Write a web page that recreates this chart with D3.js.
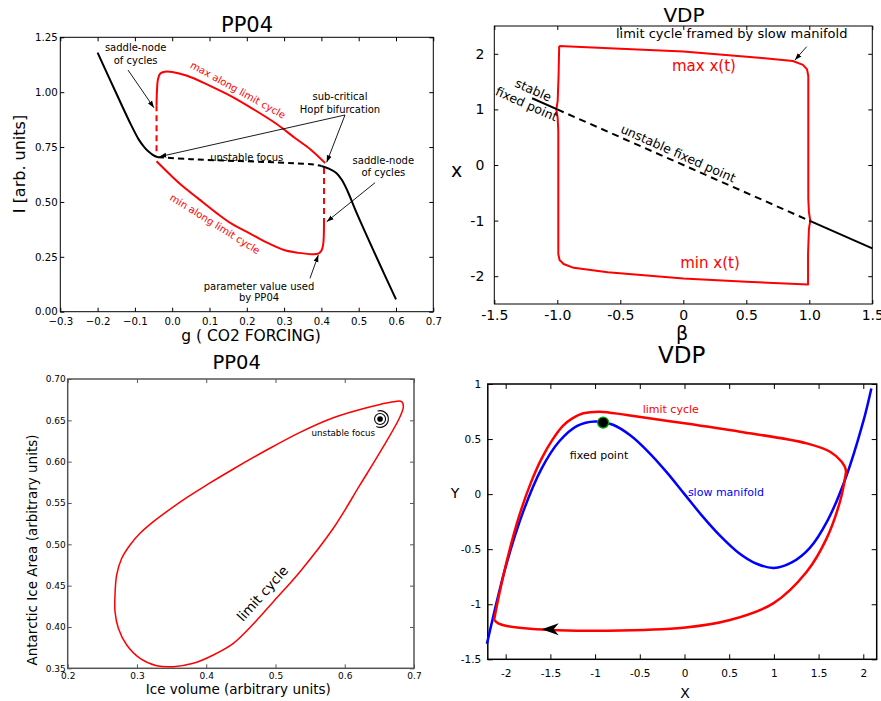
<!DOCTYPE html>
<html><head><meta charset="utf-8">
<script src="https://cdn.jsdelivr.net/npm/d3@7"></script>
<style>body{margin:0;background:#fff;} svg text{font-family:"DejaVu Sans",sans-serif;}</style>
</head><body>
<svg id="c" width="881" height="701"></svg>
<script>
// ================= DATA =================
// Panel A: PP04 bifurcation diagram (g = CO2 forcing, I = ice)
const aStableLeftG  = [-0.2, -0.15, -0.11, -0.09, -0.075, -0.062, -0.052, -0.044, -0.038];
const aStableLeftI  = [1.18, 0.995, 0.85, 0.785, 0.750, 0.727, 0.714, 0.707, 0.704];
const aUnstableG    = [-0.038, 0.05, 0.15, 0.25, 0.33, 0.38, 0.40];
const aUnstableI    = [0.704, 0.695, 0.688, 0.682, 0.676, 0.670, 0.664];
const aStableRightG = [0.40, 0.42, 0.44, 0.455, 0.47, 0.495, 0.55, 0.60];
const aStableRightI = [0.664, 0.652, 0.632, 0.60, 0.55, 0.448, 0.24, 0.056];
const aMaxG = [-0.042, -0.041, -0.038, -0.032, -0.02, 0.0, 0.04, 0.1, 0.16, 0.22, 0.28, 0.33, 0.37, 0.41];
const aMaxI = [0.94, 1.0, 1.06, 1.085, 1.093, 1.092, 1.075, 1.03, 0.98, 0.92, 0.855, 0.79, 0.74, 0.677];
const aMinG = [-0.042, 0.0, 0.03, 0.07, 0.12, 0.16, 0.21, 0.25, 0.3, 0.34, 0.378, 0.393, 0.401, 0.405, 0.407];
const aMinI = [0.685, 0.615, 0.569, 0.515, 0.448, 0.40, 0.355, 0.318, 0.281, 0.268, 0.262, 0.266, 0.281, 0.31, 0.40];
const aDashLeftG = [-0.042, -0.042], aDashLeftI = [0.94, 0.715];
const aDashRightG = [0.407, 0.407], aDashRightI = [0.40, 0.665];
const aXTicks = [-0.3, -0.2, -0.1, 0.0, 0.1, 0.2, 0.3, 0.4, 0.5, 0.6, 0.7];
const aXLabels = ["\u22120.3","\u22120.2","\u22120.1","0.0","0.1","0.2","0.3","0.4","0.5","0.6","0.7"];
const aYTicks = [0, 0.25, 0.5, 0.75, 1.0, 1.25];
const aYLabels = ["0.00","0.25","0.50","0.75","1.00","1.25"];

// Panel B: VDP bifurcation in beta
const bStableAB = [-1.2, -1.0], bStableAX = [1.2, 1.0];
const bUnstB = [-1.0, 1.0], bUnstX = [1.0, -1.0];
const bStableBB = [1.0, 1.5], bStableBX = [-1.0, -1.5];
const bCycleB = [-0.985, -0.5, 0, 0.6, 0.87, 0.95, 0.982, 0.992, 0.992, 0.997, 1.008, 0.997, 0.99, 0.99, 0.5, 0, -0.6, -0.87, -0.95, -0.982, -0.992, -0.992, -0.997, -1.008, -0.997, -0.99, -0.985];
const bCycleX = [2.14, 2.09, 2.04, 1.93, 1.87, 1.8, 1.72, 1.6, -0.6, -0.85, -1.0, -1.15, -1.6, -2.15, -2.1, -2.04, -1.93, -1.85, -1.78, -1.71, -1.6, 0.6, 0.85, 1.0, 1.15, 1.6, 2.14];
const bXTicks = [-1.5, -1.0, -0.5, 0, 0.5, 1.0, 1.5];
const bXLabels = ["-1.5","-1.0","-0.5","0","0.5","1.0","1.5"];
const bYTicks = [-2, -1, 0, 1, 2];
const bYLabels = ["-2","-1","0","1","2"];

// Panel C: PP04 limit cycle (ice volume vs Antarctic ice area)
const cVol  = [0.2683, 0.2707, 0.2780, 0.2900, 0.3044, 0.3237, 0.3429, 0.3718, 0.4007, 0.4392, 0.4873, 0.5354, 0.5835, 0.6317, 0.6702, 0.6822, 0.6846, 0.6798, 0.6557, 0.6220, 0.5835, 0.5354, 0.4969, 0.4680, 0.4392, 0.4103, 0.3814, 0.3526, 0.3285, 0.3044, 0.2852, 0.2731, 0.2683];
const cArea = [0.4387, 0.4629, 0.4831, 0.4992, 0.5133, 0.5274, 0.5395, 0.5565, 0.5718, 0.5911, 0.6141, 0.6355, 0.6532, 0.6653, 0.6726, 0.6726, 0.6665, 0.6544, 0.6181, 0.5718, 0.5194, 0.4669, 0.4306, 0.4036, 0.3802, 0.3661, 0.3560, 0.3520, 0.3532, 0.3621, 0.3782, 0.3984, 0.4185];
const cFocus = [0.651, 0.6516];
const cXTicks = [0.2, 0.3, 0.4, 0.5, 0.6, 0.7];
const cXLabels = ["0.2","0.3","0.4","0.5","0.6","0.7"];
const cYTicks = [0.35, 0.40, 0.45, 0.50, 0.55, 0.60, 0.65, 0.70];
const cYLabels = ["0.35","0.40","0.45","0.50","0.55","0.60","0.65","0.70"];

// Panel D: VDP phase plane
const dManX = [-2.21, -2.0, -1.8, -1.6, -1.4, -1.2, -1.0, -0.8, -0.6, -0.4, -0.2, 0, 0.2, 0.4, 0.6, 0.8, 1.0, 1.2, 1.4, 1.6, 1.8, 2.0, 2.09];
const dManY = [-1.36, -0.66, -0.15, 0.23, 0.48, 0.62, 0.66, 0.63, 0.53, 0.38, 0.2, 0, -0.2, -0.38, -0.53, -0.63, -0.67, -0.62, -0.49, -0.24, 0.14, 0.66, 0.96];
const dCycX = [-2.13, -2.083, -1.989, -1.504, -0.87, -0.013, 0.509, 0.993, 1.367, 1.59, 1.739, 1.795, 1.805, 1.758, 1.628, 1.367, 0.621, -0.125, -0.647, -0.945, -1.132, -1.25, -1.36, -1.48, -1.60, -1.72, -1.85, -1.97, -2.07, -2.13];
const dCycY = [-1.143, -1.174, -1.198, -1.234, -1.24, -1.213, -1.143, -0.992, -0.705, -0.402, -0.069, 0.143, 0.219, 0.294, 0.385, 0.461, 0.567, 0.658, 0.718, 0.749, 0.734, 0.69, 0.62, 0.49, 0.32, 0.10, -0.20, -0.55, -0.90, -1.143];
const dFixed = [-0.91, 0.65];
const dArrow = [-1.597, -1.228];
const dXTicks = [-2, -1.5, -1, -0.5, 0, 0.5, 1, 1.5, 2];
const dXLabels = ["-2","-1.5","-1","-0.5","0","0.5","1","1.5","2"];
const dYTicks = [-1.5, -1, -0.5, 0, 0.5, 1];
const dYLabels = ["-1.5","-1","-0.5","0","0.5","1"];

// ================= DRAWING =================
const svg = d3.select("#c");
const zip = (a, b) => a.map((v, i) => [v, b[i]]);

svg.append("defs").append("marker")
  .attr("id", "arr").attr("viewBox", "0 0 10 10").attr("refX", 10).attr("refY", 5)
  .attr("markerWidth", 7).attr("markerHeight", 7).attr("markerUnits", "userSpaceOnUse")
  .attr("orient", "auto")
  .append("path").attr("d", "M0,1.5 L10,5 L0,8.5 Z").attr("fill", "#000");

function makePanel(o) {
  const x = d3.scaleLinear().domain(o.xDom).range(o.xRange);
  const y = d3.scaleLinear().domain(o.yDom).range(o.yRange);
  const g = svg.append("g");
  const [xl, xr] = o.xRange, [yb, yt] = o.yRange;
  const fmtX = (d) => o.xLabels[o.xTicks.indexOf(d)];
  const fmtY = (d) => o.yLabels[o.yTicks.indexOf(d)];
  const axes = [
    [d3.axisBottom(x).tickValues(o.xTicks).tickFormat(fmtX).tickPadding(o.xPad), `translate(0,${yb})`],
    [d3.axisTop(x).tickValues(o.xTicks).tickFormat(""), `translate(0,${yt})`],
    [d3.axisLeft(y).tickValues(o.yTicks).tickFormat(fmtY).tickPadding(o.yPad), `translate(${xl},0)`],
    [d3.axisRight(y).tickValues(o.yTicks).tickFormat(""), `translate(${xr},0)`]
  ];
  axes.forEach(([a, t]) => {
    a.tickSizeInner(-o.tl).tickSizeOuter(0);
    const ag = g.append("g").attr("transform", t).call(a);
    ag.select(".domain").remove();
    ag.selectAll("line").attr("stroke", o.frameColor || "#000").attr("stroke-width", o.tickW || 1);
    ag.selectAll("text").attr("font-family", "DejaVu Sans, sans-serif").attr("font-size", o.tickFont).attr("fill", "#000");
  });
  g.append("rect").attr("x", xl).attr("y", yt).attr("width", xr - xl).attr("height", yb - yt)
    .attr("fill", "none").attr("stroke", o.frameColor || "#000").attr("stroke-width", o.frameW || 1);
  const line = (curve) => d3.line().x(d => x(d[0])).y(d => y(d[1])).curve(curve || d3.curveLinear);
  return { g, x, y, line };
}
function txt(g, px, py, s, opt) {
  opt = opt || {};
  const t = g.append("text").attr("x", px).attr("y", py).text(s)
    .attr("font-size", opt.size || 10).attr("fill", opt.color || "#000")
    .attr("text-anchor", opt.anchor || "middle");
  if (opt.central) t.attr("dominant-baseline", "central");
  if (opt.rot !== undefined) t.attr("transform", `rotate(${opt.rot},${px},${py})`);
  return t;
}

// ---------- Panel A ----------
{
  const P = makePanel({ xDom: [-0.3, 0.7], xRange: [60.3, 433.3], yDom: [0, 1.25], yRange: [311.7, 37.3],
    xTicks: aXTicks, xLabels: aXLabels, yTicks: aYTicks, yLabels: aYLabels,
    tl: 4, tickFont: 10.2, xPad: 6.5, yPad: 2.5 });
  const { g, x, y, line } = P;
  const cr = d3.curveCatmullRom;
  g.append("path").attr("d", line(cr)(zip(aStableLeftG, aStableLeftI))).attr("fill", "none").attr("stroke", "#000").attr("stroke-width", 2);
  g.append("path").attr("d", line(cr)(zip(aUnstableG, aUnstableI))).attr("fill", "none").attr("stroke", "#000").attr("stroke-width", 2).attr("stroke-dasharray", "6,4");
  g.append("path").attr("d", line(cr)(zip(aStableRightG, aStableRightI))).attr("fill", "none").attr("stroke", "#000").attr("stroke-width", 2);
  g.append("path").attr("d", line(cr)(zip(aMaxG, aMaxI))).attr("fill", "none").attr("stroke", "#f00").attr("stroke-width", 2);
  g.append("path").attr("d", line(cr)(zip(aMinG, aMinI))).attr("fill", "none").attr("stroke", "#f00").attr("stroke-width", 2);
  g.append("path").attr("d", line()(zip(aDashLeftG, aDashLeftI))).attr("fill", "none").attr("stroke", "#f00").attr("stroke-width", 2).attr("stroke-dasharray", "6,4");
  g.append("path").attr("d", line()(zip(aDashRightG, aDashRightI))).attr("fill", "none").attr("stroke", "#f00").attr("stroke-width", 2).attr("stroke-dasharray", "6,4");

  const arrows = [
    [[-0.1185, 1.101], [-0.0488, 0.929]],
    [[0.4633, 0.896], [-0.0346, 0.706]],
    [[0.4633, 0.896], [0.4142, 0.6806]],
    [[0.5438, 0.5877], [0.4142, 0.41]],
    [[0.3694, 0.152], [0.3917, 0.258]]
  ];
  arrows.forEach(([a, b]) => g.append("line").attr("x1", x(a[0])).attr("y1", y(a[1])).attr("x2", x(b[0])).attr("y2", y(b[1]))
    .attr("stroke", "#000").attr("stroke-width", 0.9).attr("marker-end", "url(#arr)"));

  txt(g, x(-0.098), y(1.1876), "saddle-node");
  txt(g, x(-0.098), y(1.1295), "of cycles");
  txt(g, x(0.1764), y(1.010), "max along limit cycle", { color: "#f00", rot: 29, central: true });
  txt(g, x(0.4498), y(0.9645), "sub-critical");
  txt(g, x(0.4498), y(0.9066), "Hopf bifurcation");
  txt(g, x(0.1997), y(0.688), "unstable focus");
  txt(g, x(0.566), y(0.6715), "saddle-node");
  txt(g, x(0.566), y(0.618), "of cycles");
  txt(g, x(0.1148), y(0.3995), "min along limit cycle", { color: "#f00", rot: 32, central: true });
  txt(g, x(0.2327), y(0.0989), "parameter value used");
  txt(g, x(0.2327), y(0.0487), "by PP04");

  txt(svg, 247, 32.3, "PP04", { size: 21 });
  txt(svg, 25, 164, "I  [arb. units]", { size: 16, rot: -90 });
  txt(svg, 251, 341, "g ( CO2 FORCING)", { size: 15.5 });
}

// ---------- Panel B ----------
{
  const P = makePanel({ xDom: [-1.5, 1.5], xRange: [494.3, 872.3], yDom: [-2.5, 2.5], yRange: [304, 26],
    xTicks: bXTicks, xLabels: bXLabels, yTicks: bYTicks, yLabels: bYLabels,
    tl: 4, tickFont: 14, xPad: 6, yPad: 10 });
  const { g, x, y, line } = P;
  g.append("path").attr("d", line()(zip(bCycleB, bCycleX))).attr("fill", "none").attr("stroke", "#f00").attr("stroke-width", 2).attr("stroke-linejoin", "round");
  g.append("path").attr("d", line()(zip(bStableAB, bStableAX))).attr("fill", "none").attr("stroke", "#000").attr("stroke-width", 2);
  g.append("path").attr("d", line()(zip(bUnstB, bUnstX))).attr("fill", "none").attr("stroke", "#000").attr("stroke-width", 2).attr("stroke-dasharray", "7,5");
  g.append("path").attr("d", line()(zip(bStableBB, bStableBX))).attr("fill", "none").attr("stroke", "#000").attr("stroke-width", 2);

  g.append("line").attr("x1", x(0.979)).attr("y1", y(2.128)).attr("x2", x(0.886)).attr("y2", y(1.888))
    .attr("stroke", "#000").attr("stroke-width", 0.9).attr("marker-end", "url(#arr)");
  txt(g, x(0.384), y(2.279), "limit cycle framed by slow manifold", { size: 13 });
  txt(g, x(0.164), y(1.69), "max x(t)", { size: 15, color: "#f00" });
  txt(g, x(0.212), y(-1.853), "min x(t)", { size: 15, color: "#f00" });
  txt(g, x(-1.19), y(1.349), "stable", { size: 12.5, rot: 24, central: true });
  txt(g, x(-1.243), y(1.097), "fixed point", { size: 12.5, rot: 24, central: true });
  txt(g, x(-0.04), y(0.21), "unstable fixed point", { size: 12.5, rot: 24, central: true });

  txt(svg, 684, 21.7, "VDP", { size: 20 });
  txt(svg, 456.7, 170, "x", { size: 19, central: true });
  txt(svg, 682, 333, "\u03b2", { size: 19, central: true });
}

// ---------- Panel C ----------
{
  const P = makePanel({ xDom: [0.2, 0.7], xRange: [67.7, 414], yDom: [0.35, 0.70], yRange: [668.3, 379],
    xTicks: cXTicks, xLabels: cXLabels, yTicks: cYTicks, yLabels: cYLabels,
    tl: 4, tickFont: 9, xPad: 4, yPad: 2, frameColor: "#555", frameW: 1.5, tickW: 1 });
  const { g, x, y, line } = P;
  g.append("path").attr("d", line(d3.curveCatmullRomClosed)(zip(cVol, cArea))).attr("fill", "none").attr("stroke", "#f00").attr("stroke-width", 1.5);
  const fx = x(cFocus[0]), fy = y(cFocus[1]);
  g.append("circle").attr("cx", fx).attr("cy", fy).attr("r", 2.8).attr("fill", "#000");
  g.append("circle").attr("cx", fx).attr("cy", fy).attr("r", 5.5).attr("fill", "none").attr("stroke", "#000").attr("stroke-width", 1.1);
  g.append("path").attr("transform", `translate(${fx},${fy})`)
    .attr("d", d3.arc().innerRadius(8.3).outerRadius(8.3).startAngle(-0.3).endAngle(3.6)())
    .attr("fill", "none").attr("stroke", "#000").attr("stroke-width", 1.1);
  txt(g, x(0.598), y(0.631), "unstable focus", { size: 8.7 });
  txt(g, x(0.481), y(0.4407), "limit cycle", { size: 13.5, rot: -48, central: true });

  txt(svg, 236.7, 369, "PP04", { size: 19.5 });
  txt(svg, 36.5, 550, "Antarctic Ice Area (arbitrary units)", { size: 13.5, rot: -90 });
  txt(svg, 238.3, 694, "Ice volume (arbitrary units)", { size: 13.5 });
}

// ---------- Panel D ----------
{
  const P = makePanel({ xDom: [-2.2, 2.15], xRange: [487.8, 876.7], yDom: [-1.5, 1], yRange: [659.3, 384],
    xTicks: dXTicks, xLabels: dXLabels, yTicks: dYTicks, yLabels: dYLabels,
    tl: 5, tickFont: 10.5, xPad: 10.5, yPad: 6.5, frameW: 1.5 });
  const { g, x, y, line } = P;
  g.append("path").attr("d", line(d3.curveCatmullRom)(zip(dManX, dManY))).attr("fill", "none").attr("stroke", "#00f").attr("stroke-width", 2.5);
  g.append("path").attr("d", line(d3.curveCatmullRom)(zip(dCycX, dCycY))).attr("fill", "none").attr("stroke", "#f00").attr("stroke-width", 2.5).attr("stroke-linejoin", "round");
  g.append("circle").attr("cx", x(dFixed[0])).attr("cy", y(dFixed[1])).attr("r", 5.5).attr("fill", "#000").attr("stroke", "#0a0").attr("stroke-width", 1.3);
  g.append("path").attr("transform", `translate(${x(dArrow[0])},${y(dArrow[1])})`)
    .attr("d", "M0,0 L17,-6 L12,0 L17,6 Z").attr("fill", "#000");
  txt(g, x(-0.154), y(0.739), "limit cycle", { size: 11, color: "#f00" });
  txt(g, x(-0.956), y(0.319), "fixed point", { size: 11 });
  txt(g, x(0.464), y(-0.015), "slow manifold", { size: 11, color: "#00f" });

  txt(svg, 681.7, 363, "VDP", { size: 23 });
  txt(svg, 685, 698, "X", { size: 14 });
  txt(svg, 455, 498.3, "Y", { size: 14 });
}
</script>
</body></html>
